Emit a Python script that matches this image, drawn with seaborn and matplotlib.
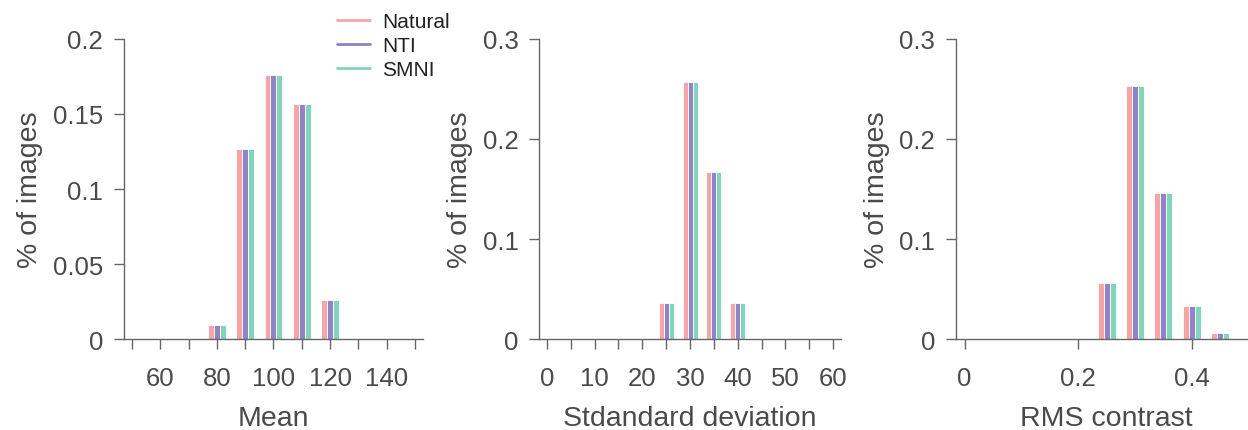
import matplotlib
matplotlib.use("Agg")
import matplotlib.pyplot as plt
from matplotlib.lines import Line2D
import seaborn as sns
import pandas as pd

# ---------------- data ----------------
series_names = ["Natural", "NTI", "SMNI"]
series_colors = ["#F6A5A7", "#9083C6", "#84D3BD"]

mean_bins = [80, 90, 100, 110, 120]
mean_natural = [0.0095, 0.1265, 0.1762, 0.1564, 0.0262]
mean_nti = [0.0095, 0.1265, 0.1762, 0.1564, 0.0262]
mean_smni = [0.0095, 0.1265, 0.1762, 0.1564, 0.0262]

std_bins = [25, 30, 35, 40]
std_natural = [0.0363, 0.2567, 0.1667, 0.0363]
std_nti = [0.0363, 0.2567, 0.1667, 0.0363]
std_smni = [0.0363, 0.2567, 0.1667, 0.0363]

rms_bins = [0.25, 0.30, 0.35, 0.40, 0.45]
rms_natural = [0.0563, 0.2526, 0.1463, 0.0331, 0.0066]
rms_nti = [0.0563, 0.2526, 0.1463, 0.0331, 0.0066]
rms_smni = [0.0563, 0.2526, 0.1463, 0.0331, 0.0066]

xlabels = ["Mean", "Stdandard deviation", "RMS contrast"]
ylabel = "% of images"

mean_xticks = [50, 60, 70, 80, 90, 100, 110, 120, 130, 140, 150]
mean_xticklabels = ["", "60", "", "80", "", "100", "", "120", "", "140", ""]
mean_yticks = [0, 0.05, 0.1, 0.15, 0.2]
mean_yticklabels = ["0", "0.05", "0.1", "0.15", "0.2"]

std_xticks = [0, 5, 10, 15, 20, 25, 30, 35, 40, 45, 50, 55, 60]
std_xticklabels = ["0", "", "10", "", "20", "", "30", "", "40", "", "50", "", "60"]
std_yticks = [0, 0.1, 0.2, 0.3]
std_yticklabels = ["0", "0.1", "0.2", "0.3"]

rms_xticks = [0, 0.2, 0.4]
rms_xticklabels = ["0", "0.2", "0.4"]
rms_yticks = [0, 0.1, 0.2, 0.3]
rms_yticklabels = ["0", "0.1", "0.2", "0.3"]


def long_frame(bins, a, b, c):
    rows = []
    for name, vals in zip(series_names, [a, b, c]):
        for x, v in zip(bins, vals):
            rows.append({"bin": x, "value": v, "series": name})
    return pd.DataFrame(rows)


df_mean = long_frame(mean_bins, mean_natural, mean_nti, mean_smni)
df_std = long_frame(std_bins, std_natural, std_nti, std_smni)
df_rms = long_frame(rms_bins, rms_natural, rms_nti, rms_smni)

# ---------------- style ----------------
sns.set_style("ticks")
plt.rcParams["font.family"] = ["Liberation Sans", "DejaVu Sans"]
axis_gray = "#666666"
text_gray = "#4a4a4a"

fig = plt.figure(figsize=(12.48, 4.31), dpi=100)
W, H = 1248.0, 431.0
bottom = (H - 340.3) / H
height = 300.5 / H
ax1 = fig.add_axes([124 / W, bottom, 299.4 / W, height])
ax2 = fig.add_axes([539.3 / W, bottom, 301.5 / W, height])
ax3 = fig.add_axes([956 / W, bottom, 301 / W, height])

panels = [
    (ax1, df_mean, (47.2, 153.0), (0, 0.2), mean_xticks, mean_xticklabels, mean_yticks, mean_yticklabels),
    (ax2, df_std, (-1.6, 61.6), (0, 0.3), std_xticks, std_xticklabels, std_yticks, std_yticklabels),
    (ax3, df_rms, (-0.0153, 0.515), (0, 0.3), rms_xticks, rms_xticklabels, rms_yticks, rms_yticklabels),
]

for i, (ax, df, xl, yl, xt, xtl, yt, ytl) in enumerate(panels):
    sns.barplot(data=df, x="bin", y="value", hue="series", hue_order=series_names,
                palette=series_colors, native_scale=True, width=0.63,
                edgecolor="white", linewidth=0.6, errorbar=None, legend=False,
                saturation=1, ax=ax)
    ax.set_xlim(*xl)
    ax.set_ylim(*yl)
    ax.set_xticks(xt)
    ax.set_xticklabels(xtl)
    ax.set_yticks(yt)
    ax.set_yticklabels(ytl)
    for s in ["top", "right"]:
        ax.spines[s].set_visible(False)
    for s in ["left", "bottom"]:
        ax.spines[s].set_color(axis_gray)
        ax.spines[s].set_linewidth(1.0)
    ax.tick_params(axis="both", direction="out", length=7, width=1.0,
                   color=axis_gray, labelcolor=text_gray, labelsize=18.5)
    ax.tick_params(axis="x", pad=12)
    ax.tick_params(axis="y", pad=8)
    ax.set_xlabel(xlabels[i], fontsize=20.5, color=text_gray, labelpad=11)
    ax.set_ylabel(ylabel, fontsize=20.5, color=text_gray, labelpad=7)
    ax.patch.set_alpha(0)

handles = [Line2D([0], [0], color=c, lw=2.0) for c in series_colors]
fig.legend(handles, series_names, loc="upper left",
           bbox_to_anchor=(337 / W, 1 - 13 / H), frameon=False,
           fontsize=15, handlelength=1.6, handletextpad=0.55,
           labelspacing=0.25, borderpad=0, borderaxespad=0,
           labelcolor="#222222")

fig.savefig("out.png", dpi=100)
